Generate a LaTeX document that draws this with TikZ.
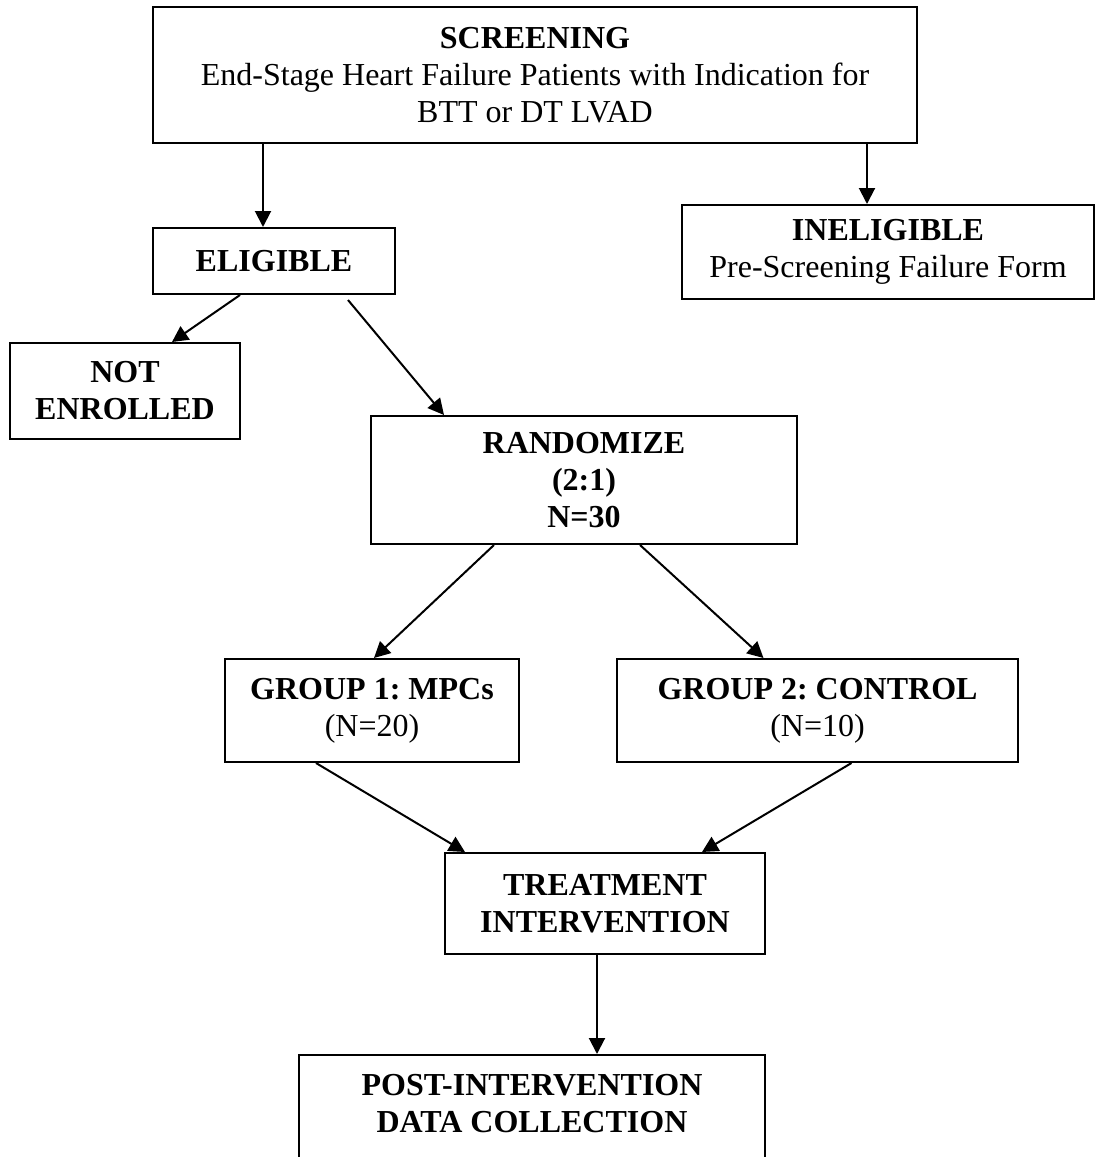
\documentclass[tikz,border=0pt]{standalone}
\usepackage{fontspec}
\setmainfont{Liberation Serif}
\usetikzlibrary{arrows.meta}
\frenchspacing

\begin{document}
\begin{tikzpicture}[x=0.5pt,y=-0.5pt,
    box/.style={draw, line width=1pt, align=center, inner sep=0pt,
      font=\fontsize{16}{18.5}\selectfont},
    arrow/.style={-{Triangle[length=8pt,width=8pt]}, line width=1pt}]
    \useasboundingbox (0,0) rectangle (1096,1157);
    \clip (0,0) rectangle (1096,1157);

    % Boxes of the flow chart
    \node[box, minimum width=382pt, minimum height=68pt] (screen) at (535,75)
      {\textbf{SCREENING}\\End-Stage Heart Failure Patients with Indication for\\BTT or DT LVAD};
    \node[box, minimum width=121pt, minimum height=33pt] (elig) at (274,261) {\textbf{ELIGIBLE}};
    \node[box, minimum width=206pt, minimum height=47pt] (inelig) at (888,252)
      {\textbf{INELIGIBLE}\\Pre-Screening Failure Form};
    \node[box, minimum width=115pt, minimum height=48pt] (noten) at (125,391) {\textbf{NOT}\\\textbf{ENROLLED}};
    \node[box, minimum width=213pt, minimum height=64pt] (rand) at (584,480)
      {\textbf{RANDOMIZE}\\\textbf{(2:1)}\\\textbf{N=30}};
    \node[box, minimum width=147pt, minimum height=51.5pt] (group1) at (372,710.5)
      {\textbf{GROUP 1: MPCs}\\(N=20)};
    \node[box, minimum width=200.5pt, minimum height=51.5pt] (group2) at (817.5,710.5)
      {\textbf{GROUP 2: CONTROL}\\(N=10)};
    \node[box, minimum width=160pt, minimum height=50.5pt] (treat) at (605,903.5)
      {\textbf{TREATMENT}\\\textbf{INTERVENTION}};
    \node[box, minimum width=233pt, minimum height=67pt] (post) at (532,1122)
      {\textbf{POST-INTERVENTION}\\\textbf{DATA COLLECTION}\\~};

    % Arrows: from/shift at start/shift down/to/shift at end
    \foreach \from/\fx/\fy/\to/\tx in {screen/-136pt/0pt/elig/-5.5pt,
        screen/166pt/0pt/inelig/-10.5pt, elig/-17pt/0pt/noten/23.5pt,
        elig/37pt/-2.5pt/rand/-70pt, rand/-45pt/0pt/group1/1pt,
        rand/28pt/0pt/group2/-27pt, group1/-28pt/0pt/treat/-70pt,
        group2/17pt/0pt/treat/48.5pt, treat/-4pt/0pt/post/32.5pt} {
      \draw[arrow] ([xshift=\fx,yshift=\fy]\from.south) -- ([xshift=\tx]\to.north);
    }
\end{tikzpicture}
\end{document}
